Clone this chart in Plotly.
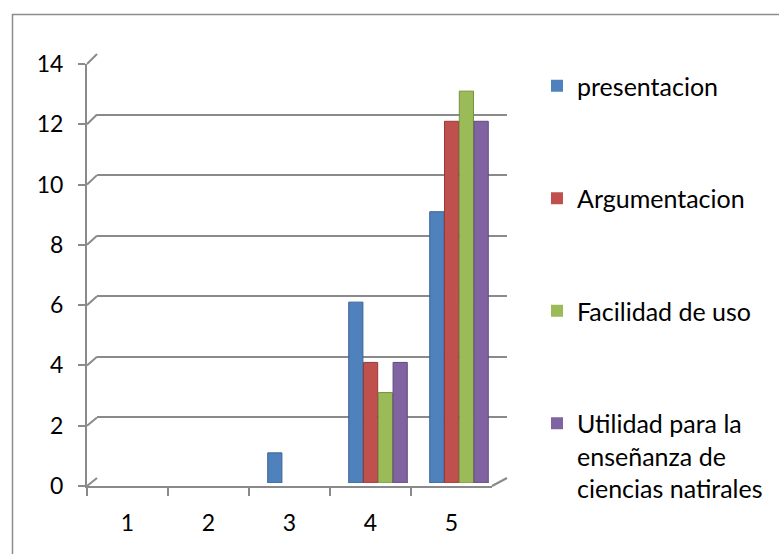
import plotly.graph_objects as go

# ---------------- data ----------------
categories = ["1", "2", "3", "4", "5"]
presentacion = [0, 0, 1, 6, 9]
argumentacion = [0, 0, 0, 4, 12]
facilidad = [0, 0, 0, 3, 13]
utilidad = [0, 0, 0, 4, 12]
series_names = ["presentacion", "Argumentacion", "Facilidad de uso",
                "Utilidad para la<br>enseñanza de<br>ciencias natirales"]
y_ticks = [0, 2, 4, 6, 8, 10, 12, 14]

# ---------------- styling / geometry ----------------
W, H = 779, 554
colors = ["#4F81BD", "#C0504D", "#9BBB59", "#8064A2"]
edges = ["#3A6493", "#943B39", "#76923F", "#5F4A7D"]
grid_col = "#8A8A8A"
FONT = "Lato"
FS = 23

# front frame (axes with labels), back wall, and bar layer, in px
front = dict(x0=87, x1=492, y0=486, y1=64)
back = dict(x0=97, x1=507, y0=478, y1=54)
bars = dict(x0=94.5, x1=499.5, y0=483, y1=61)

def xdom(g):
    return [g["x0"] / W, g["x1"] / W]

def ydom(g):
    return [(H - g["y0"]) / H, (H - g["y1"]) / H]

YMAX = 14

fig = go.Figure()

all_series = [presentacion, argumentacion, facilidad, utilidad]
for name, vals, c, e in zip(series_names, all_series, colors, edges):
    fig.add_trace(go.Bar(
        x=categories, y=vals, name=name, xaxis="x3", yaxis="y3",
        marker=dict(color=c, line=dict(color=e,
                                       width=[1 if v > 0 else 0 for v in vals])),
        legendgroup=name,
    ))

# invisible helpers so every axis pair is drawn
fig.add_trace(go.Scatter(x=categories, y=[None] * 5, xaxis="x", yaxis="y",
                         showlegend=False, hoverinfo="skip", mode="markers"))
fig.add_trace(go.Scatter(x=categories, y=[None] * 5, xaxis="x2", yaxis="y2",
                         showlegend=False, hoverinfo="skip", mode="markers"))

tickfont = dict(family=FONT, size=FS, color="#000000")

fig.update_layout(
    template="none",
    width=W, height=H, autosize=False,
    margin=dict(l=0, r=0, t=0, b=0, pad=0, autoexpand=False),
    paper_bgcolor="white", plot_bgcolor="rgba(0,0,0,0)",
    barmode="group", bargap=0.27, bargroupgap=0.04,
    font=dict(family=FONT, size=FS, color="#000000"),
    xaxis=dict(domain=xdom(front), anchor="y", type="category",
               categoryarray=categories, range=[-0.5, 4.5],
               tickson="boundaries", ticks="outside", ticklen=8,
               tickcolor=grid_col, tickwidth=2,
               showline=True, linecolor=grid_col, linewidth=2,
               showgrid=False, zeroline=False, tickfont=tickfont,
               ticklabelstandoff=15, automargin=False),
    yaxis=dict(domain=ydom(front), anchor="x", range=[0, YMAX],
               tickvals=y_ticks, ticks="outside", ticklen=7,
               tickcolor=grid_col, tickwidth=2,
               showline=True, linecolor=grid_col, linewidth=2,
               showgrid=False, zeroline=False, tickfont=tickfont,
               ticklabelstandoff=10, automargin=False),
    xaxis2=dict(domain=xdom(back), anchor="y2", type="category",
                categoryarray=categories, range=[-0.5, 4.5],
                showgrid=False, showline=False, zeroline=False,
                showticklabels=False, ticks="", automargin=False),
    yaxis2=dict(domain=ydom(back), anchor="x2", range=[-0.02, YMAX + 0.02],
                tickvals=y_ticks, showgrid=True, gridcolor=grid_col,
                gridwidth=2, showline=False, zeroline=False,
                showticklabels=False, ticks="", automargin=False),
    xaxis3=dict(domain=xdom(bars), anchor="y3", type="category",
                categoryarray=categories, range=[-0.5, 4.5], visible=False,
                automargin=False),
    yaxis3=dict(domain=ydom(bars), anchor="x3", range=[0, YMAX],
                visible=False, automargin=False),
    legend=dict(x=537 / W, y=(H - 63) / H, xanchor="left", yanchor="top",
                bgcolor="rgba(0,0,0,0)", borderwidth=0,
                tracegroupgap=77, valign="top",
                font=dict(family=FONT, size=25, color="#000000"),
                itemwidth=30),
)

# 3D connector lines from the front frame to the back wall
def fy(g, v):
    return g["y0"] + (g["y1"] - g["y0"]) * v / YMAX

shapes = []
for v in y_ticks:
    shapes.append(dict(type="line", xref="paper", yref="paper",
                       x0=front["x0"] / W, y0=(H - fy(front, v)) / H,
                       x1=back["x0"] / W, y1=(H - fy(back, v)) / H,
                       line=dict(color=grid_col, width=2), layer="below"))
shapes.append(dict(type="line", xref="paper", yref="paper",
                   x0=front["x1"] / W, y0=(H - fy(front, 0)) / H,
                   x1=back["x1"] / W, y1=(H - fy(back, 0)) / H,
                   line=dict(color=grid_col, width=2), layer="below"))
# outer chart border (runs off the right and bottom edges)
shapes.append(dict(type="rect", xref="paper", yref="paper",
                   x0=12.5 / W, y0=(H - 14.5) / H, x1=1.05, y1=-0.05,
                   line=dict(color="#8C8C8C", width=1.5), layer="below"))
fig.update_layout(shapes=shapes)

fig.write_html("out.html", config={"displayModeBar": False},
               post_script="document.body.style.margin='0';")
